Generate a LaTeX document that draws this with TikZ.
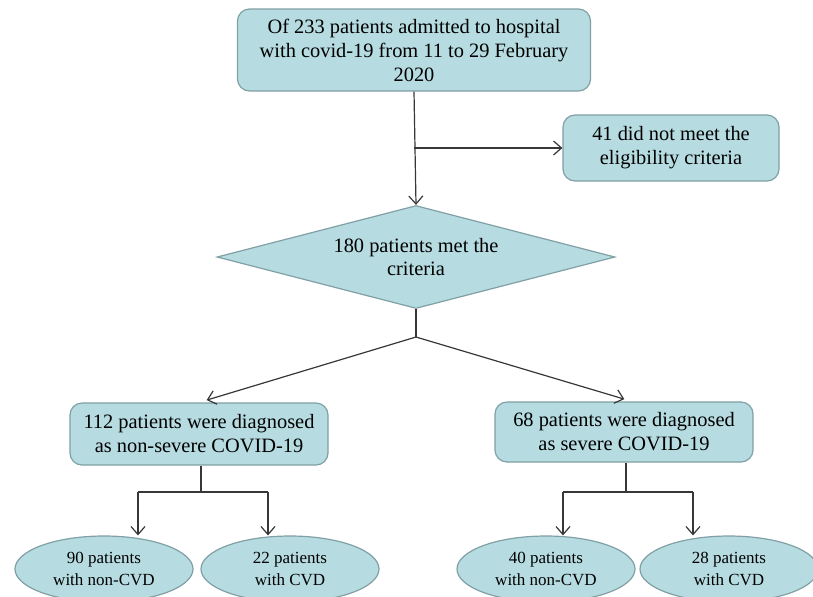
\documentclass[tikz,border=0pt]{standalone}
\usepackage{fontspec}
\setmainfont{Liberation Serif}
\usetikzlibrary{shapes.geometric, arrows.meta}

\definecolor{boxfill}{RGB}{182,220,225}
\definecolor{boxline}{RGB}{128,160,165}
\definecolor{linkline}{RGB}{55,55,55}

\tikzset{
  flowbox/.style = {draw = boxline, fill = boxfill, rounded corners = 6pt, line width = 0.6pt,
    align = center, inner sep = 0pt, font = \fontsize{10.2pt}{12pt}\selectfont},
  critbox/.style = {diamond, draw = boxline, fill = boxfill, line width = 0.6pt, shape aspect = 4,
    align = center, inner sep = 0pt, minimum width = 199pt, minimum height = 51.5pt,
    font = \fontsize{10.2pt}{11.5pt}\selectfont},
  cvdbox/.style = {ellipse, draw = boxline, fill = boxfill, line width = 0.6pt, align = center,
    inner sep = 0pt, minimum width = 89pt, minimum height = 33pt,
    font = \fontsize{8.5pt}{11pt}\selectfont},
  link/.style = {draw = linkline, line width = 0.6pt},
  arrowlink/.style = {link, -{Straight Barb[length = 4pt, width = 7pt]}}
}

\begin{document}
\begin{tikzpicture}[x = 0.5pt, y = -0.5pt]
  \def \ysplitone {148};
  \def \ysplittwo {337};
  \def \ybranch {492};

  \useasboundingbox (0, 0) rectangle (813, 596);
  \clip (0, 0) rectangle (813, 596);

  % Draw boxes.
  \node[flowbox, minimum width = 176.5pt, minimum height = 41pt] (admitted) at (414, 50)
    {Of 233 patients admitted to hospital\\with covid-19 from 11 to 29 February\\2020};
  \node[flowbox, minimum width = 108pt, minimum height = 33pt] (excluded) at (671, 148)
    {41 did not meet the\\eligibility criteria};
  \node[critbox] (criteria) at (416, 257) {180 patients met the\\criteria};
  \node[flowbox, minimum width = 129pt, minimum height = 31pt] (nonsevere) at (199, 434)
    {112 patients were diagnosed\\as non-severe COVID-19};
  \node[flowbox, minimum width = 129pt, minimum height = 30pt] (severe) at (624, 432)
    {68 patients were diagnosed\\as severe COVID-19};

  % Draw ellipses.
  \node[cvdbox] (nonsevnoncvd) at (104, 569) {90 patients\\with non-CVD};
  \node[cvdbox] (nonsevcvd) at (290, 569) {22 patients\\with CVD};
  \node[cvdbox] (sevnoncvd) at (546, 569) {40 patients\\with non-CVD};
  \node[cvdbox] (sevcvd) at (729, 569) {28 patients\\with CVD};

  % Draw split points.
  \coordinate (exclsplit) at (admitted.south |- 0, \ysplitone);
  \coordinate (severitysplit) at (criteria.south |- 0, \ysplittwo);
  \coordinate (nonsevsplit) at (201, \ybranch);
  \coordinate (nonsevleft) at (138, \ybranch);
  \coordinate (nonsevright) at (268, \ybranch);
  \coordinate (sevsplit) at (626, \ybranch);
  \coordinate (sevleft) at (563, \ybranch);
  \coordinate (sevright) at (693, \ybranch);

  % Draw connectors.
  \draw[arrowlink] (admitted.south) -- (criteria.north);
  \draw[arrowlink] (exclsplit) -- (excluded.west);
  \draw[link] (criteria.south) -- (severitysplit);
  \draw[arrowlink, shorten > = 4pt] (severitysplit) -- ([xshift = 0pt]nonsevere.north);
  \draw[arrowlink, shorten > = 4pt] (severitysplit) -- ([xshift = 4pt]severe.north);

  \draw[link] (nonsevere.south -| nonsevsplit) -- (nonsevsplit);
  \draw[link] (nonsevleft) -- (nonsevright);
  \draw[link] (severe.south -| sevsplit) -- (sevsplit);
  \draw[link] (sevleft) -- (sevright);
  \foreach \from/\to in {nonsevleft/nonsevnoncvd, nonsevright/nonsevcvd, sevleft/sevnoncvd, sevright/sevcvd} {
    \draw[arrowlink] (\from) -- (\from |- \to.north);
  };
\end{tikzpicture}
\end{document}
